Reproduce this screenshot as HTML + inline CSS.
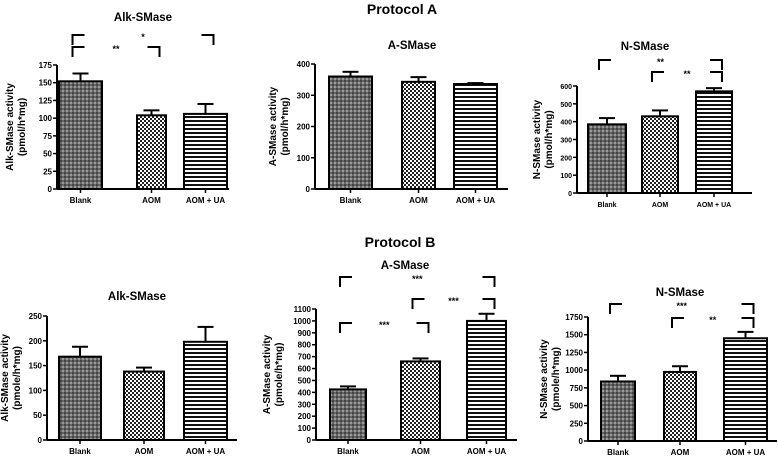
<!DOCTYPE html>
<html><head><meta charset="utf-8"><style>
body{margin:0;background:#fff}
svg{display:block;font-family:"Liberation Sans",Arial,sans-serif;font-weight:bold}
</style></head><body>
<svg id="c" width="778" height="456" viewBox="0 0 778 456">
<defs>
<pattern id="pBlank" width="4" height="4" patternUnits="userSpaceOnUse"><rect width="4" height="4" fill="#666"/><rect width="2" height="2" fill="#444"/><rect x="2" y="2" width="2" height="2" fill="#999"/></pattern>
<pattern id="pAom" width="4" height="4" patternUnits="userSpaceOnUse"><rect width="4" height="4" fill="#fff"/><rect width="2" height="2" fill="#222"/><rect x="2" y="2" width="2" height="2" fill="#222"/></pattern>
<pattern id="pUa" width="4" height="4" patternUnits="userSpaceOnUse"><rect width="4" height="4" fill="#fff"/><rect width="4" height="2" fill="#111"/></pattern>
</defs>
<text x="402" y="14" text-anchor="middle" font-size="14">Protocol A</text>
<text x="400" y="247" text-anchor="middle" font-size="14">Protocol B</text>
</svg>
<script>
const categories = ["Blank","AOM","AOM + UA"];
const alkAMeans = [152, 104, 106];
const alkAErr = [11, 7, 14];
const aAMeans = [360, 343, 336];
const aAErr = [15, 15, 3];
const nAMeans = [385, 430, 570];
const nAErr = [35, 33, 18];
const alkBMeans = [168, 138, 198];
const alkBErr = [20, 8, 30];
const aBMeans = [425, 660, 1000];
const aBErr = [25, 25, 60];
const nBMeans = [840, 975, 1450];
const nBErr = [80, 80, 90];
const alkATicks = [0,25,50,75,100,125,150,175];
const aATicks = [0,100,200,300,400];
const nATicks = [0,100,200,300,400,500,600];
const alkBTicks = [0,50,100,150,200,250];
const aBTicks = [0,100,200,300,400,500,600,700,800,900,1000,1100];
const nBTicks = [0,250,500,750,1000,1250,1500,1750];
// brackets: [fromIndex, toIndex, label]
const alkABrackets = [[0,2,"*"],[0,1,"**"]];
const nABrackets = [[0,2,"**"],[1,2,"**"]];
const aBBrackets = [[0,2,"***"],[1,2,"***"],[0,1,"***"]];
const nBBrackets = [[0,2,"***"],[1,2,"**"]];

const NS="http://www.w3.org/2000/svg";
const svg=document.getElementById('c');
function mk(tag,attrs,parent){const e=document.createElementNS(NS,tag);for(const k in attrs)e.setAttribute(k,attrs[k]);(parent||svg).appendChild(e);return e;}
const fills=["url(#pBlank)","url(#pAom)","url(#pUa)"];

const panels=[
 {id:"alk-a",title:"Alk-SMase",tx:143,ty:21,ax:57,top:65,bot:189,right:229,max:175,ticks:alkATicks,means:alkAMeans,err:alkAErr,bars:[[59,102],[137,166],[184,227]],yl1:"Alk-SMase activity",yl2:"(pmol/h*mg)",ylx:13,fs:8,br:alkABrackets,bry:[35,47]},
 {id:"a-a",title:"A-SMase",tx:412,ty:49,ax:315,top:64,bot:189,right:508,max:400,ticks:aATicks,means:aAMeans,err:aAErr,bars:[[329,372],[402,435],[454,497]],yl1:"A-SMase activity",yl2:"(pmol/h*mg)",ylx:276,fs:8,br:[]},
 {id:"n-a",title:"N-SMase",tx:645,ty:50,ax:577,top:86,bot:193,right:752,max:600,ticks:nATicks,means:nAMeans,err:nAErr,bars:[[588,626],[642,678],[696,732]],yl1:"N-SMase activity",yl2:"(pmol/h*mg)",ylx:540,fs:7,br:nABrackets,bry:[60,72]},
 {id:"alk-b",title:"Alk-SMase",tx:137,ty:300,ax:47,top:316,bot:440,right:237,max:250,ticks:alkBTicks,means:alkBMeans,err:alkBErr,bars:[[59,101],[124,164],[184,227]],yl1:"Alk-SMase activity",yl2:"(pmole/h*mg)",ylx:8,fs:8,br:[]},
 {id:"a-b",title:"A-SMase",tx:405,ty:269,ax:316,top:309,bot:440,right:517,max:1100,ticks:aBTicks,means:aBMeans,err:aBErr,bars:[[330,366],[401,440],[467,506]],yl1:"A-SMase activity",yl2:"(pmole/h*mg)",ylx:270,fs:8,br:aBBrackets,bry:[277,299,323]},
 {id:"n-b",title:"N-SMase",tx:680,ty:296,ax:588,top:317,bot:441,right:777,max:1750,ticks:nBTicks,means:nBMeans,err:nBErr,bars:[[601,635],[664,696],[724,767]],yl1:"N-SMase activity",yl2:"(pmole/h*mg)",ylx:547,fs:8,br:nBBrackets,bry:[304,318]}
];

panels.forEach(p=>{
 const g=mk('g',{});
 
 
 const y=v=>p.bot-(v/p.max)*(p.bot-p.top);
 const t=mk('text',{x:p.tx,y:p.ty,'text-anchor':'middle','font-size':11.5},g);t.textContent=p.title;
 
 
 p.means.forEach((m,i)=>{
  const [x0,x1]=p.bars[i];const cx=(x0+x1)/2;
  const e=y(m+p.err[i]);
  mk('line',{x1:cx,x2:cx,y1:y(m),y2:e,stroke:'#000','stroke-width':2},g);
  mk('line',{x1:cx-8,x2:cx+8,y1:e,y2:e,stroke:'#000','stroke-width':2},g);
  const r=mk('rect',{x:x0,y:y(m),width:x1-x0,height:p.bot-y(m),fill:fills[i],stroke:'#000','stroke-width':2},g);
  
  
  mk('line',{x1:cx,x2:cx,y1:p.bot,y2:p.bot+4,stroke:'#000','stroke-width':1.5},g);
  const l=mk('text',{x:cx,y:p.bot+14,'text-anchor':'middle','font-size':p.fs},g);l.textContent=categories[i];
  
  
 });
 mk('line',{x1:p.ax,x2:p.ax,y1:p.top,y2:p.bot,stroke:'#000','stroke-width':2},g);
 mk('line',{x1:p.ax,x2:p.right,y1:p.bot,y2:p.bot,stroke:'#000','stroke-width':2},g);
 p.ticks.forEach(v=>{
  mk('line',{x1:p.ax-4,x2:p.ax,y1:y(v),y2:y(v),stroke:'#000','stroke-width':1.5},g);
  const tl=mk('text',{x:p.ax-5,y:y(v)+3,'text-anchor':'end','font-size':p.fs},g);tl.textContent=v;
  
  
 });
 const cy=(p.top+p.bot)/2;
 const yl=mk('text',{transform:`translate(${p.ylx},${cy}) rotate(-90)`,'text-anchor':'middle','font-size':10},g);
 
 
 const s1=mk('tspan',{x:0,y:0},yl);s1.textContent=p.yl1;
 const s2=mk('tspan',{x:0,y:12},yl);s2.textContent=p.yl2;
 p.br.forEach((b,k)=>{
  const by=p.bry[k];
  const xa=(p.bars[b[0]][0]+p.bars[b[0]][1])/2, xb=(p.bars[b[1]][0]+p.bars[b[1]][1])/2;
  mk('path',{d:`M${xa-8},${by+10}V${by}H${xa+4}`,fill:'none',stroke:'#000','stroke-width':2},g);
  mk('path',{d:`M${xb-4},${by}H${xb+8}V${by+10}`,fill:'none',stroke:'#000','stroke-width':2},g);
  const st=mk('text',{x:(xa+xb)/2,y:by+5,'text-anchor':'middle','font-size':9},g);st.textContent=b[2];
  
  
 });
});
</script>
</body></html>
